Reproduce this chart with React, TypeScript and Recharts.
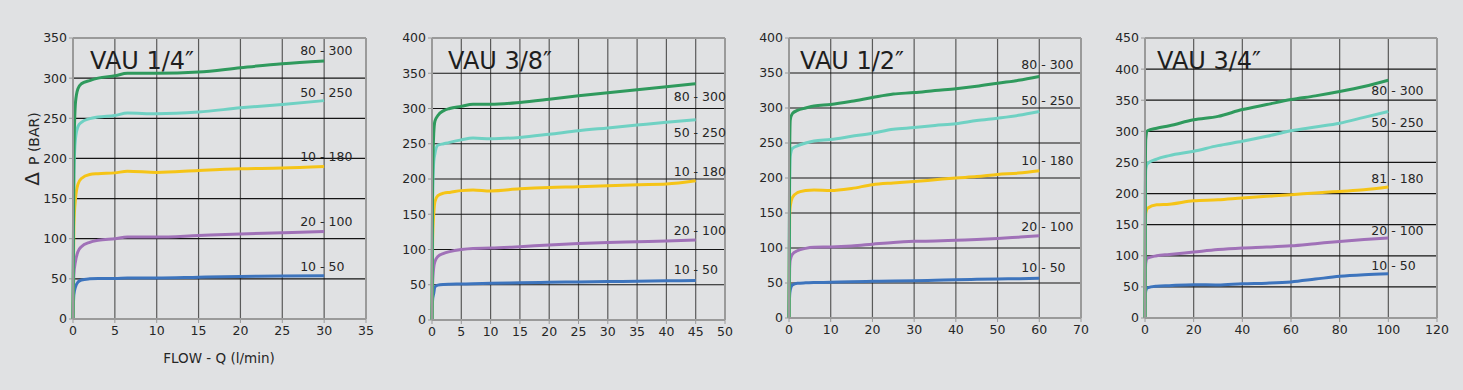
import { LineChart, Line, XAxis, YAxis, CartesianGrid, ReferenceLine, LabelList } from "recharts";

// VAU 1/4"
const flow14 = [0, 0.1, 0.3, 0.6, 1, 2, 3, 5, 6.5, 10, 15, 20, 25, 30];
const vau14_10_50 = [0, 30, 40, 46, 48.5, 50, 50.5, 50.5, 51, 51, 52, 53, 53.5, 54];
const vau14_20_100 = [0, 55, 72, 84, 90, 95.5, 98, 100, 102, 102, 104, 106, 107.5, 109];
const vau14_10_180 = [0, 115, 150, 168, 175, 180, 181, 182, 184, 182.6, 185, 187, 188, 190];
const vau14_50_250 = [0, 180, 225, 240, 245, 249.5, 251.5, 253.5, 256.5, 255.7, 257.8, 263, 267.3, 272];
const vau14_80_300 = [0, 200, 270, 287, 293, 297, 300, 303, 306, 306, 307.5, 313, 318, 321.5];

// VAU 3/8"
const flow38 = [0, 0.1, 0.3, 0.5, 1, 2, 3, 5, 7, 10, 15, 20, 25, 30, 35, 40, 45];
const vau38_10_50 = [0, 28, 38, 47, 49.5, 50.5, 50.8, 51, 51.3, 52, 52.8, 53.5, 54, 54.5, 55, 55.5, 56];
const vau38_20_100 = [0, 50, 75, 83, 90, 94.5, 97, 100, 101.5, 102, 104, 106.5, 108.5, 110, 111, 112, 113.5];
const vau38_10_180 = [0, 110, 151, 168, 176.5, 180, 181, 183.5, 184.5, 183, 186, 188, 189, 190.5, 192, 193, 197.5];
const vau38_50_250 = [0, 170, 225, 236, 248, 250, 252, 255.5, 258, 257, 259, 263.5, 268.5, 272.5, 276.5, 280.5, 284];
const vau38_80_300 = [0, 200, 265, 282, 290, 297, 300, 303, 306, 306, 308.5, 313, 318, 322.5, 326.5, 331, 335];

// VAU 1/2"
const flow12 = [0, 0.15, 0.3, 0.8, 2, 4, 6, 10, 15, 20, 25, 30, 35, 40, 45, 50, 55, 60];
const vau12_10_50 = [0, 32, 40, 47, 49.5, 50.2, 50.6, 51, 51.8, 52.4, 52.8, 53.3, 54, 54.8, 55.2, 55.7, 56.2, 56.7];
const vau12_20_100 = [0, 70, 83, 91, 96, 99.5, 101, 101.5, 103, 105.5, 108, 109.5, 110, 111, 112, 113.5, 115.5, 117.5];
const vau12_10_180 = [0, 145, 160, 172, 179, 182, 183, 182, 185, 190.5, 193, 195, 197.5, 200, 202, 205, 207, 210.5];
const vau12_50_250 = [0, 190, 231, 242, 246, 250, 253, 255, 259.5, 264, 269.5, 272, 275, 277.5, 282, 285.5, 289.5, 295];
const vau12_80_300 = [0, 230, 283, 292, 296.5, 300, 303, 305, 309.5, 315, 320, 322, 325, 327.5, 331, 335.5, 339.5, 345];

// VAU 3/4"
const flow34 = [0, 0.15, 0.3, 1, 4.8, 10, 20, 30, 40, 50, 60, 70, 80, 90, 100];
const vau34_10_50 = [0, 33, 43, 48.5, 51, 52, 53.5, 53, 55, 56, 58, 62.5, 67, 69.5, 71];
const vau34_20_100 = [0, 70, 88, 96, 100, 102, 106, 110, 112.5, 114, 116, 119.5, 123, 126, 128.5];
const vau34_81_180 = [0, 140, 168, 176.5, 182, 183, 188.5, 190, 193, 195.5, 198, 201, 203.5, 206, 210.5];
const vau34_50_250 = [0, 200, 238, 248, 255.5, 261, 268, 277, 284, 292, 301, 307, 313, 322.5, 332];
const vau34_80_300 = [0, 230, 287, 301, 305, 309, 318.5, 324, 335, 343, 351, 357, 364, 372, 382];

const FONT = "'DejaVu Sans', sans-serif";
const INK = "#262626";
const BG = "#e0e1e3";
const COLORS = ["#3d74bd", "#a071b8", "#f5c417", "#6fd1c3", "#2f9a5d"];
const KEYS = ["s1", "s2", "s3", "s4", "s5"];

const panels = [
  {
    title: "VAU 1/4\u2033", left: 73, right: 366, top: 38, bottom: 319, titleDx: 17,
    xMax: 35, xStep: 5, yMax: 350, flow: flow14, labelDx: -24,
    names: ["10 - 50", "20 - 100", "10 - 180", "50 - 250", "80 - 300"],
    values: [vau14_10_50, vau14_20_100, vau14_10_180, vau14_50_250, vau14_80_300],
    labelDy: [-9.5, -10, -9.5, -8.5, -10],
  },
  {
    title: "VAU 3/8\u2033", left: 432, right: 725, top: 38, bottom: 320, titleDx: 16,
    xMax: 50, xStep: 5, yMax: 400, flow: flow38, labelDx: -22,
    names: ["10 - 50", "20 - 100", "10 - 180", "50 - 250", "80 - 300"],
    values: [vau38_10_50, vau38_20_100, vau38_10_180, vau38_50_250, vau38_80_300],
    labelDy: [-11.5, -9.5, -9.5, 12.5, 12.5],
  },
  {
    title: "VAU 1/2\u2033", left: 789, right: 1081, top: 38, bottom: 318, titleDx: 11,
    xMax: 70, xStep: 10, yMax: 400, flow: flow12, labelDx: -18,
    names: ["10 - 50", "20 - 100", "10 - 180", "50 - 250", "80 - 300"],
    values: [vau12_10_50, vau12_20_100, vau12_10_180, vau12_50_250, vau12_80_300],
    labelDy: [-10.5, -9, -10.5, -11, -12.5],
  },
  {
    title: "VAU 3/4\u2033", left: 1145, right: 1437, top: 38, bottom: 318, titleDx: 12,
    xMax: 120, xStep: 20, yMax: 450, flow: flow34, labelDx: -17,
    names: ["10 - 50", "20 - 100", "81 - 180", "50 - 250", "80 - 300"],
    values: [vau34_10_50, vau34_20_100, vau34_81_180, vau34_50_250, vau34_80_300],
    labelDy: [-8.5, -7.5, -9, 11.5, 10.5],
  },
];

const range = (max: number, step: number) => {
  const out: number[] = [];
  for (let v = 0; v <= max; v += step) out.push(v);
  return out;
};

function endLabel(text: string, last: number, dx: number, dy: number) {
  return (props: any) => {
    if (props.index !== last) return null;
    return (
      <text
        x={Number(props.x) + dx}
        y={Number(props.y) + dy}
        dominantBaseline="central"
        fontFamily={FONT}
        fontSize={12.5}
        fill={INK}
      >
        {text}
      </text>
    );
  };
}

function Panel({ cfg }: { cfg: (typeof panels)[number] }) {
  const axisW = 45;
  const padTop = 10;
  const padRight = 14;
  const axisH = 30;
  const plotW = cfg.right - cfg.left;
  const plotH = cfg.bottom - cfg.top;
  const rows = cfg.flow.map((q, i) => {
    const row: Record<string, number> = { q };
    KEYS.forEach((k, s) => (row[k] = cfg.values[s][i]));
    return row;
  });
  const last = cfg.flow.length - 1;
  const tick = { fill: INK, fontSize: 12.5, fontFamily: FONT };

  return (
    <div style={{ position: "absolute", left: cfg.left - axisW, top: cfg.top - padTop }}>
      <LineChart
        width={plotW + axisW + padRight}
        height={plotH + padTop + axisH}
        data={rows}
        margin={{ top: padTop, right: padRight, bottom: 0, left: 0 }}
      >
        <CartesianGrid horizontal={false} stroke="#5a5a5a" strokeWidth={1.2} />
        <CartesianGrid vertical={false} stroke="#151515" strokeWidth={1.2} />
        <ReferenceLine y={cfg.yMax} stroke="#9a9a9a" strokeWidth={2} />
        <ReferenceLine x={cfg.xMax} stroke="#9a9a9a" strokeWidth={2} />
        <XAxis
          dataKey="q"
          type="number"
          domain={[0, cfg.xMax]}
          ticks={range(cfg.xMax, cfg.xStep)}
          interval={0}
          height={axisH}
          tick={tick}
          tickSize={4}
          tickMargin={3}
          stroke="#9a9a9a"
          axisLine={{ stroke: "#9a9a9a", strokeWidth: 2 }}
        />
        <YAxis
          type="number"
          domain={[0, cfg.yMax]}
          ticks={range(cfg.yMax, 50)}
          interval={0}
          width={axisW}
          tick={tick}
          tickSize={4}
          tickMargin={2}
          stroke="#9a9a9a"
          axisLine={{ stroke: "#9a9a9a", strokeWidth: 2 }}
        />
        {KEYS.map((k, s) => (
          <Line
            key={k}
            dataKey={k}
            type="monotone"
            stroke={COLORS[s]}
            strokeWidth={3}
            dot={false}
            isAnimationActive={false}
          >
            <LabelList content={endLabel(cfg.names[s], last, cfg.labelDx, cfg.labelDy[s])} />
          </Line>
        ))}
      </LineChart>
      <div
        style={{
          position: "absolute",
          left: axisW + cfg.titleDx,
          top: padTop + 9,
          fontFamily: FONT,
          fontSize: 24,
          lineHeight: "28px",
          color: "#1e1e1e",
          whiteSpace: "nowrap",
        }}
      >
        {cfg.title}
      </div>
    </div>
  );
}

export default function App() {
  return (
    <div style={{ position: "absolute", left: 0, top: 0, width: 1463, height: 390, background: BG, overflow: "hidden" }}>
      {panels.map((p) => (
        <Panel key={p.title} cfg={p} />
      ))}
      <svg width={1463} height={390} style={{ position: "absolute", left: 0, top: 0, pointerEvents: "none" }}>
        <text
          transform="translate(39,149) rotate(-90)"
          textAnchor="middle"
          fontFamily={FONT}
          fontSize={14}
          fill={INK}
        >
          <tspan fontSize={20}>Δ</tspan>
          <tspan dx={7}>P (BAR)</tspan>
        </text>
        <text x={219} y={358} textAnchor="middle" dominantBaseline="central" fontFamily={FONT} fontSize={13.5} fill={INK}>
          FLOW - Q (l/min)
        </text>
      </svg>
    </div>
  );
}
